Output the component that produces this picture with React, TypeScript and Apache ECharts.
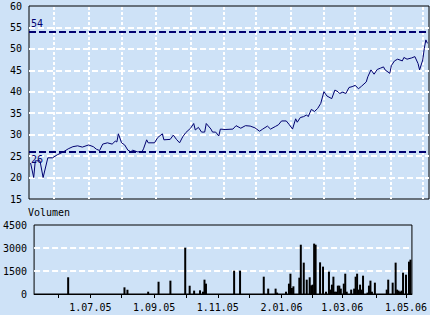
import React, { useEffect, useRef } from 'react';
import * as echarts from 'echarts';

// trading-day index of each read point (0 = left edge of the plot)
const priceIdx = [
  1, 3, 4, 7, 9, 12, 15, 18, 22, 25, 28, 31, 34, 38, 41, 43, 45, 47, 50, 53,
  55, 56, 57, 59, 61, 63, 65, 66, 69, 72, 73, 75, 76, 80, 82, 85, 86, 90, 92, 94,
  96, 98, 100, 103, 105, 106, 108, 110, 112, 113, 116, 117, 119, 121, 122, 125, 130, 132, 135, 138,
  141, 144, 147, 149, 152, 154, 157, 159, 161, 164, 166, 168, 170, 171, 173, 175, 177, 178, 180, 182,
  184, 186, 188, 190, 193, 195, 197, 198, 200, 202, 204, 206, 208, 210, 212, 215, 216, 218, 220, 222,
  224, 226, 227, 230, 231, 233, 235, 238, 239, 241, 244, 246, 248, 249, 251, 252, 253, 254,
];
const priceVal = [
  23.4, 20.0, 23.9, 23.9, 20.0, 24.6, 24.6, 25.3, 26.0, 26.7, 27.2, 27.4, 27.1, 27.6, 27.2, 26.6, 26.3, 27.8, 28.1, 27.8,
  28.5, 28.3, 30.2, 28.1, 27.6, 26.4, 26.0, 26.4, 26.0, 26.0, 26.7, 28.8, 28.1, 28.1, 29.3, 30.2, 28.8, 28.9, 29.9, 28.9,
  28.1, 29.5, 30.5, 31.5, 32.6, 31.1, 31.7, 30.6, 30.6, 32.6, 31.3, 30.6, 30.6, 29.7, 31.3, 31.2, 31.3, 32.1, 31.5, 32.1,
  32.0, 31.6, 30.8, 31.3, 32.0, 31.3, 31.9, 32.3, 33.2, 33.2, 32.3, 31.3, 33.7, 32.9, 34.0, 34.2, 34.6, 34.2, 35.9, 35.4,
  36.1, 37.3, 40.0, 39.0, 38.4, 40.4, 40.0, 39.6, 39.9, 39.6, 41.0, 41.2, 41.5, 40.7, 41.3, 42.3, 43.5, 45.1, 44.1, 45.2,
  45.5, 45.8, 45.1, 44.3, 46.1, 47.2, 47.6, 47.2, 48.0, 47.6, 47.9, 48.2, 46.6, 45.1, 47.4, 50.1, 52.1, 51.3,
];

const volIdx = [
  23, 61, 63, 77, 84, 92, 102, 105, 108, 112, 114, 115, 116, 135, 139, 155, 158, 163, 164, 170,
  172, 173, 174, 175, 179, 180, 182, 184, 186, 187, 188, 189, 190, 193, 195, 197, 199, 200, 201, 202,
  203, 204, 205, 206, 207, 209, 210, 211, 214, 216, 217, 218, 219, 220, 221, 222, 225, 226, 227, 228,
  230, 238, 239, 242, 244, 245, 246, 247, 248, 249, 251, 253, 254,
];
const volVal = [
  1090, 435, 285, 150, 800, 870, 3020, 540, 220, 240, 150, 935, 675, 1520, 1520, 1130, 350, 350, 90, 150,
  675, 1325, 390, 500, 1065, 3215, 2045, 935, 1090, 565, 610, 3285, 3215, 2065, 1785, 150, 1455, 285, 610, 1130,
  150, 150, 545, 545, 350, 675, 1325, 150, 285, 350, 1130, 1325, 285, 610, 285, 1195, 90, 545, 870, 150,
  740, 285, 935, 740, 2045, 285, 220, 150, 220, 1390, 1260, 2110, 2240,
];

// first trading day of each month (Jun 05 .. May 06)
const monthTicks = [16, 38, 59, 81, 103, 124, 145, 167, 188, 208, 231, 251];
const labelTicks = [38, 81, 124, 167, 208, 251];
const tickLabels = ['1.07.05', '1.09.05', '1.11.05', '2.01.06', '1.03.06', '1.05.06'];
const refLevels = [54, 26];
const volumeTitle = 'Volumen';
const priceMin = 15;
const priceMax = 60;

export default function App() {
  const ref = useRef<HTMLDivElement>(null);
  useEffect(() => {
    const chart = echarts.init(ref.current!, null, { renderer: 'svg' });
    const font = 'DejaVu Sans Mono';
    const navy = '#000070';
    const white = '#ffffff';
    chart.setOption({
      animation: false,
      backgroundColor: '#cee2f7',
      title: {
        text: volumeTitle,
        left: 28,
        top: 207,
        padding: 0,
        textStyle: { fontFamily: font, fontSize: 10, fontWeight: 'normal', color: '#000' },
      },
      grid: [
        { left: 29, top: 6, width: 400, height: 193, show: true, borderColor: '#000', borderWidth: 1, backgroundColor: 'transparent' },
        { left: 29, top: 225, width: 400, height: 69, show: true, borderColor: '#000', borderWidth: 1, backgroundColor: 'transparent' },
      ],
      xAxis: [
        {
          type: 'value', gridIndex: 0, min: 0, max: 255,
          axisLine: { show: false },
          axisTick: { show: false },
          axisLabel: { show: false },
          splitLine: { show: false },
        },
        {
          type: 'value', gridIndex: 1, min: 0, max: 255,
          axisLine: { show: true, lineStyle: { color: '#000', width: 1 } },
          axisTick: { show: true, customValues: monthTicks, length: 4, lineStyle: { color: '#000' } },
          axisLabel: {
            customValues: labelTicks,
            formatter: (v: number) => tickLabels[labelTicks.indexOf(v)] ?? '',
            fontFamily: font, fontSize: 10, color: '#000', margin: 8,
          },
          splitLine: { show: false },
        },
      ],
      yAxis: [
        {
          type: 'value', gridIndex: 0, min: priceMin, max: priceMax, interval: 5,
          axisLine: { show: false }, axisTick: { show: false },
          axisLabel: { fontFamily: font, fontSize: 10, color: '#000', margin: 7, formatter: (v: number) => String(v) },
          splitLine: { show: true, showMinLine: false, showMaxLine: false, lineStyle: { color: white, type: [6, 3], width: 2 } },
        },
        {
          type: 'value', gridIndex: 1, min: 0, max: 4500, interval: 1500,
          axisLine: { show: false }, axisTick: { show: false },
          axisLabel: { fontFamily: font, fontSize: 10, color: '#000', margin: 7, formatter: (v: number) => String(v) },
          splitLine: { show: true, showMinLine: false, showMaxLine: false, lineStyle: { color: white, type: [6, 3], width: 2 } },
        },
      ],
      series: [
        {
          // vertical month grid lines of the price panel
          type: 'custom',
          xAxisIndex: 0, yAxisIndex: 0,
          data: monthTicks.map((m) => [m, priceMin]),
          encode: { x: 0, y: 1 },
          silent: true,
          z: 1,
          renderItem: (_params: any, api: any) => {
            const xv = api.value(0);
            const top = api.coord([xv, priceMax]);
            const bottom = api.coord([xv, priceMin]);
            const x = Math.round(top[0]);
            return {
              type: 'line',
              shape: { x1: x, y1: top[1] + 1, x2: x, y2: bottom[1] },
              style: { stroke: white, lineWidth: 2, lineDash: [3, 2] },
            };
          },
        },
        {
          type: 'line',
          xAxisIndex: 0, yAxisIndex: 0,
          data: priceIdx.map((x, i) => [x, priceVal[i]]),
          symbol: 'none',
          lineStyle: { color: navy, width: 1 },
          silent: true,
          z: 5,
          markLine: {
            silent: true,
            symbol: ['none', 'none'],
            lineStyle: { color: navy, type: [7, 3], width: 2 },
            label: {
              show: true, color: navy, fontFamily: font, fontSize: 10,
              formatter: (p: any) => String(p.value),
              distance: [2, 3],
            },
            data: refLevels.map((v, i) => ({
              yAxis: v,
              label: { position: i === 0 ? 'insideStartTop' : 'insideStartBottom' },
            })),
          },
        },
        {
          type: 'bar',
          xAxisIndex: 1, yAxisIndex: 1,
          data: volIdx.map((x, i) => [x, volVal[i]]),
          barWidth: 2,
          itemStyle: { color: '#000' },
          silent: true,
        },
      ],
    });
    return () => chart.dispose();
  }, []);
  return <div ref={ref} style={{ position: 'absolute', left: 0, top: 0, width: 430, height: 315 }} />;
}
